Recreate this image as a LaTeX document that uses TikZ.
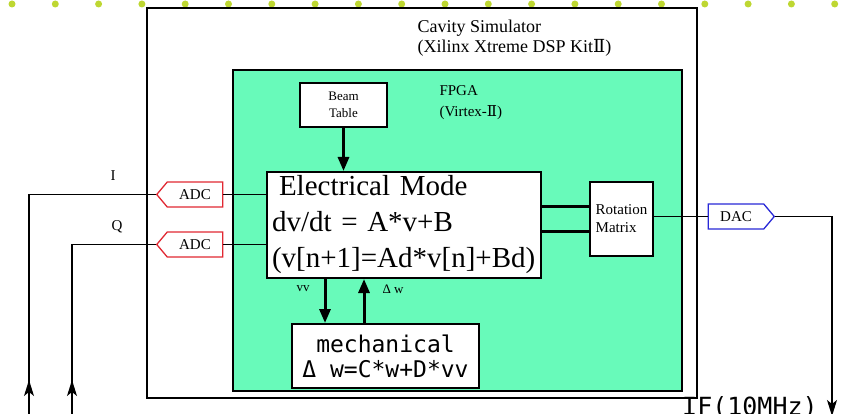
\documentclass[tikz,border=0pt]{standalone}
\usepackage{fontspec}
\setmainfont{Liberation Serif}
\newfontfamily\gothic{DejaVu Sans Mono}
\newfontfamily\numfont{DejaVu Serif}
\usetikzlibrary{arrows.meta,shapes.symbols}
\definecolor{fpgagreen}{RGB}{104,250,186}
\definecolor{adcred}{RGB}{225,40,50}
\definecolor{dacblue}{RGB}{40,40,215}
\definecolor{dotgreen}{RGB}{190,215,50}
\tikzset{
 wire/.style={line width=1.3pt},
 thk/.style={line width=3pt},
 box/.style={draw,line width=2pt,fill=white},
 conv/.style={signal,draw,fill=white,line width=1.3pt,minimum width=66,minimum height=25,
  inner sep=1pt,signal pointer angle=100,font=\fontsize{15}{15}\selectfont},
 adc/.style={conv,draw=adcred,signal to=west},
 dac/.style={conv,draw=dacblue,signal to=east},
 tip/.style={-{Stealth[length=16pt,width=10pt,inset=4pt]}},
 bigtip/.style={-{Triangle[length=14pt,width=11pt]}}
}
\begin{document}
\begin{tikzpicture}[x=1pt,y=-1pt]
 \useasboundingbox (0,0) rectangle (843,414);
 \clip (0,0) rectangle (843,414);
 \foreach \k in {0,...,19}
  \fill[dotgreen] (12+43.3*\k,4) circle[radius=3.5pt];

 \draw[line width=1.5pt] (147,8) rectangle (697,398);
 \filldraw[fill=fpgagreen,line width=2pt] (233,70) rectangle (682,391);
 \node[anchor=west,align=left,font=\fontsize{18}{20}\selectfont] (simlbl) at (414,38)
  {Cavity Simulator\\(Xilinx Xtreme DSP Kit{\numfont Ⅱ})};
 \node[anchor=west,align=left,font=\fontsize{15}{21}\selectfont] (fpgalbl) at (436,103)
  {FPGA\\(Virtex-{\numfont Ⅱ})};

 \node[box,line width=1.5pt,minimum width=87,minimum height=44,align=center,
  font=\fontsize{13}{17}\selectfont] (beam) at (343.5,105) {Beam\\Table};
 \node[box,text width=264,inner xsep=5pt,minimum height=106,align=left,
  font=\fontsize{29}{36}\selectfont] (ecm) at (404,225)
  {\hspace{7pt}Electrical Mode\\dv/dt = A*v+B\\(v[n+1]=Ad*v[n]+Bd)};
 \node[box,minimum width=187,minimum height=64,inner sep=2pt,align=center,
  font=\gothic\fontsize{23}{25}\selectfont] (mech) at (385.5,356)
  {mechanical\\Δ w=C*w+D*vv};
 \node[box,line width=1.5pt,minimum width=63,minimum height=74,inner sep=1pt,align=left,
  font=\fontsize{15}{18}\selectfont] (rot) at (621.5,219) {Rotation\\Matrix};

 \node[adc] (adci) at (195,194.5) {ADC};
 \node[adc] (adcq) at (195,244.5) {ADC};
 \node[dac] (dacout) at (736,216.5) {DAC};

 \node[font=\fontsize{15}{15}\selectfont] (ilbl) at (113,176) {I};
 \node[font=\fontsize{15}{15}\selectfont] (qlbl) at (117,227) {Q};
 \node[font=\fontsize{13}{13}\selectfont] (vvlbl) at (303,289) {vv};
 \node[font=\fontsize{13}{13}\selectfont] (dwlbl) at (393,289) {Δ w};
 \node[anchor=north west,inner sep=0pt,font=\gothic\fontsize{25}{25}\selectfont] (iflbl)
  at (682,396) {IF(10MHz)};

 \coordinate (vvx) at (325,0);
 \coordinate (dwx) at (364,0);
 \coordinate (ra) at (0,207);
 \coordinate (rb) at (0,231);
 \coordinate (ibot) at (29,420);
 \coordinate (itip) at (29,380);
 \coordinate (qbot) at (72,420);
 \coordinate (qtip) at (72,380);
 \coordinate (ifend) at (832,416);

 \draw[thk,bigtip] (beam.south) -- (beam.south |- ecm.north);
 \draw[thk,bigtip] (ecm.south -| vvx) -- (mech.north -| vvx);
 \draw[thk,bigtip] (mech.north -| dwx) -- (ecm.south -| dwx);
 \draw[thk] (ecm.east |- ra) -- (rot.west |- ra);
 \draw[thk] (ecm.east |- rb) -- (rot.west |- rb);
 \draw[wire] (adci.east) -- (ecm.west |- adci.east);
 \draw[wire] (adcq.east) -- (ecm.west |- adcq.east);
 \draw[wire] (adci.west) -| (ibot);
 \draw[wire] (adcq.west) -| (qbot);
 \draw[wire,tip] (ibot) -- (itip);
 \draw[wire,tip] (qbot) -- (qtip);
 \draw[wire] (rot.east |- dacout.west) -- (dacout.west);
 \draw[wire,tip] (dacout.east) -| (ifend);
\end{tikzpicture}
\end{document}
